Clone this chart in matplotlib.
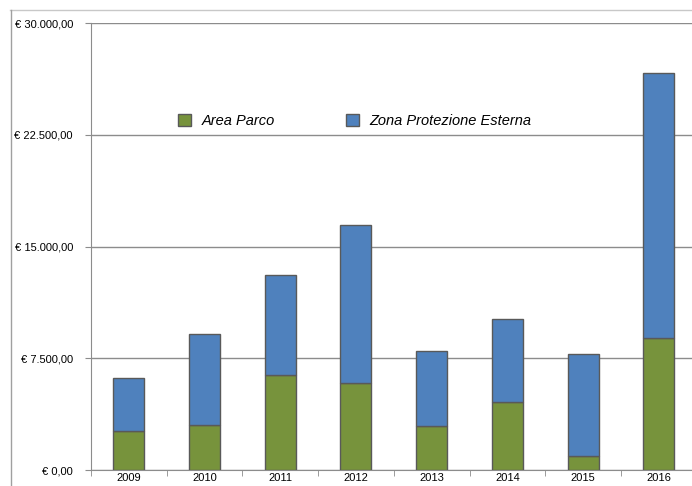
import matplotlib.pyplot as plt
from matplotlib.ticker import FixedLocator, FuncFormatter
import numpy as np

plt.rcParams['font.family'] = ['Liberation Sans', 'DejaVu Sans']

# --- Dati ---
anni = ['2009', '2010', '2011', '2012', '2013', '2014', '2015', '2016']
area_parco = [2600, 3050, 6360, 5820, 2950, 4570, 960, 8880]
zona_esterna = [3600, 6100, 6740, 10610, 5020, 5570, 6830, 17760]

VERDE = '#77933C'
BLU = '#4F81BD'
BORDO = '#595959'
GRIGIO = '#8C8C8C'

fig = plt.figure(figsize=(6.92, 4.86), dpi=100)
ax = fig.add_axes([91 / 692, 16 / 486, 605.6 / 692, 447 / 486])

x = np.arange(len(anni))
ax.bar(x, area_parco, width=0.41, color=VERDE, edgecolor=BORDO, linewidth=1,
       label='Area Parco', zorder=3)
ax.bar(x, zona_esterna, width=0.41, bottom=area_parco, color=BLU, edgecolor=BORDO,
       linewidth=1, label='Zona Protezione Esterna', zorder=3)

# --- Assi ---
ax.set_xlim(-0.5, len(anni) - 0.5)
ax.set_ylim(0, 30000)
ax.set_yticks([0, 7500, 15000, 22500, 30000])


def euro(v, pos):
    s = f'{v:,.2f}'.replace(',', 'X').replace('.', ',').replace('X', '.')
    return '€ ' + s


ax.yaxis.set_major_formatter(FuncFormatter(euro))
ax.set_xticks(x)
ax.set_xticklabels(anni)
ax.xaxis.set_minor_locator(FixedLocator(np.arange(-0.5, len(anni), 1)))
ax.tick_params(axis='x', which='major', length=0, pad=2.5, labelsize=8)
ax.tick_params(axis='x', which='minor', length=4, color=GRIGIO, direction='out')
ax.tick_params(axis='y', length=4, color=GRIGIO, direction='out', pad=9, labelsize=8)

ax.grid(axis='y', color=GRIGIO, linewidth=1, zorder=0)
for s in ['top', 'right']:
    ax.spines[s].set_visible(False)
for s in ['left', 'bottom']:
    ax.spines[s].set_color(GRIGIO)

leg = ax.legend(loc='center', bbox_to_anchor=(0.436, 0.781), ncol=2, frameon=False,
                prop={'style': 'italic', 'size': 10.5}, handlelength=0.85,
                handleheight=0.85, handletextpad=0.75, columnspacing=4.9)

# --- Cornice esterna ---
fig.add_artist(plt.Line2D([10 / 692, 1], [1 - 10 / 486, 1 - 10 / 486],
                          color='#C8C8C8', linewidth=1))
fig.add_artist(plt.Line2D([11 / 692, 11 / 692], [0, 1 - 10 / 486],
                          color='#A0A0A0', linewidth=1))

fig.savefig('out.png', dpi=100)
